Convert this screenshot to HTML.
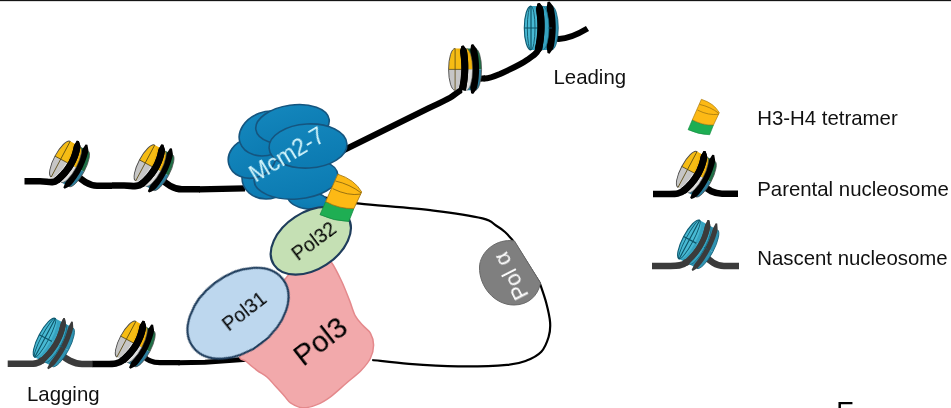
<!DOCTYPE html>
<html lang="en">
<head>
<meta charset="utf-8">
<title>Replisome histone transfer model</title>
<style>
html,body{margin:0;padding:0;background:#fff;}
body{width:951px;height:408px;overflow:hidden;position:relative;font-family:"Liberation Sans",Arial,sans-serif;}
svg{position:absolute;left:0;top:0;display:block;}
text{font-family:"Liberation Sans",Arial,sans-serif;will-change:transform;}
</style>
</head>
<body>
<svg width="951" height="408" viewBox="0 0 951 408">
<defs><linearGradient id="mg" x1="0" y1="0" x2="0.3" y2="1"><stop offset="0" stop-color="#1487bd"/><stop offset="1" stop-color="#0c7bb2"/></linearGradient></defs>
<rect x="0" y="0" width="951" height="408" fill="#ffffff"/>
<rect x="0" y="0" width="951" height="1.15" fill="#151515"/>

<path d="M322.0 197.0 C325.0 197.6 333.7 199.4 340.0 200.5 C346.3 201.6 344.4 202.0 360.0 203.7 C375.6 205.4 413.1 208.1 433.5 210.6 C453.9 213.1 472.1 215.9 482.5 218.4 C492.9 220.9 492.2 223.2 496.0 225.5 C499.8 227.8 502.2 229.6 505.0 232.0 C507.8 234.4 511.2 238.7 512.5 240.0 L539.8 283.1 C540.9 286.4 544.5 296.2 546.2 302.7 C547.9 309.2 549.7 316.6 550.1 322.3 C550.5 328.0 550.1 332.1 548.6 337.0 C547.1 341.9 545.0 347.8 541.3 351.7 C537.6 355.6 532.3 358.3 526.6 360.5 C520.9 362.7 518.4 363.9 507.0 364.9 C495.6 365.9 474.3 366.6 458.0 366.4 C441.7 366.2 423.3 365.0 409.0 363.9 C394.7 362.8 378.3 360.6 372.2 360.0" fill="none" stroke="#000" stroke-width="2.2" stroke-linejoin="round"/>
<path d="M77.5 175.5 C80.5 179.5 89 185.7 97 185.7 L112 185.7" fill="none" stroke="#000" stroke-width="6.6"/>
<path d="M162.0 179.3 C165.0 183.3 174 189.3 182 189.3 L200 189.3" fill="none" stroke="#000" stroke-width="6.6"/>
<path d="M199 189.3 L245 188.3" fill="none" stroke="#000" stroke-width="6.2"/>
<path d="M480.1 78.7 L485.1 78.3" fill="none" stroke="#000" stroke-width="6"/>
<path d="M556.8 38.8 C565 39.5 575 36 587.5 28.5" fill="none" stroke="#000" stroke-width="6"/>
<path d="M61.6 354.6 C64.6 358.6 74 364 82 364 L93 364" fill="none" stroke="#3b3b3b" stroke-width="6.6"/>
<path d="M143.2 355.5 C146.2 359.5 152 362.7 160 362.7 L180 362.7" fill="none" stroke="#000" stroke-width="5.2"/>
<path d="M178 362.7 L205 362.2 L250 359" fill="none" stroke="#000" stroke-width="5"/>
<g transform="translate(60.7 159.2) rotate(28) scale(1.0 1.0)">
<path d="M12 -20.3 L20 -20.3 A6.5 20.3 0 0 1 26.5 0 L12 0 Z" fill="#1f7046"/>
<path d="M12 20.3 L20 20.3 A6.5 20.3 0 0 0 26.5 0 L12 0 Z" fill="#2b7d9c"/>
<path d="M20 -20.3 A6.5 20.3 0 0 1 20 20.3" fill="none" stroke="#4a4a4a" stroke-width="0.7"/>
<path d="M14.99 -24.69 L14.82 -22.04 L14.52 -19.42 L14.87 -17.04 L15.38 -14.72 L15.82 -12.39 L16.19 -10.06 L16.48 -7.73 L16.69 -5.40 L16.83 -3.06 L16.90 -0.71 L16.89 1.64 L16.81 4.00 L16.65 6.36 L16.42 8.73 L16.11 11.10 L15.72 13.48 L15.27 15.87 L14.98 18.33 L15.35 21.00 L15.58 23.72 L17.42 24.28 L19.08 22.00 L20.71 19.69 L21.53 17.17 L22.03 14.60 L22.44 12.02 L22.78 9.45 L23.03 6.89 L23.20 4.32 L23.29 1.77 L23.30 -0.79 L23.23 -3.34 L23.07 -5.88 L22.84 -8.42 L22.52 -10.96 L22.13 -13.48 L21.65 -16.00 L21.09 -18.52 L20.21 -20.96 L18.52 -23.16 L16.81 -25.31 Z" fill="#000"/>
<path d="M0 -20.3 L11 -20.3 A6.5 20.3 0 0 1 17.5 0 L0 0 Z" fill="#f2b40c"/>
<path d="M0 20.3 L11 20.3 A6.5 20.3 0 0 0 17.5 0 L0 0 Z" fill="#dedede"/>
<path d="M11 -20.3 A6.5 20.3 0 0 1 11 20.3" fill="none" stroke="#4a4a4a" stroke-width="0.6"/>
<path d="M5.57 -23.78 L5.50 -21.31 L5.27 -18.89 L5.68 -16.79 L6.27 -14.77 L6.76 -12.75 L7.17 -10.72 L7.49 -8.68 L7.72 -6.64 L7.87 -4.59 L7.93 -2.53 L7.90 -0.46 L7.78 1.63 L7.57 3.72 L7.28 5.83 L6.90 7.94 L6.43 10.07 L5.87 12.22 L5.22 14.38 L4.48 16.55 L3.64 18.74 L9.96 21.26 L10.87 18.86 L11.69 16.46 L12.41 14.06 L13.04 11.67 L13.56 9.28 L13.99 6.90 L14.33 4.52 L14.56 2.15 L14.69 -0.22 L14.72 -2.57 L14.66 -4.92 L14.49 -7.26 L14.23 -9.60 L13.86 -11.92 L13.40 -14.23 L12.84 -16.53 L12.18 -18.81 L11.16 -20.99 L9.31 -22.84 L7.43 -24.62 Z" fill="#000"/>
<path d="M-6.5 0 A6.5 20.3 0 0 1 6.5 0 Z" fill="#f6bc14"/>
<path d="M-6.5 0 A6.5 20.3 0 0 0 6.5 0 Z" fill="#c6c6c6"/>
<path d="M0 -20.3 A6.5 20.3 0 0 0 0 20.3" fill="none" stroke="#4a4a4a" stroke-width="0.9"/>
<path d="M-6.5 0 H8.0 M0 -20.3 V20.3" fill="none" stroke="#5b4a10" stroke-width="0.8"/>
<path d="M5.57 -23.78 L5.50 -21.31 L5.27 -18.89 L5.68 -16.79 L6.27 -14.77 L6.76 -12.75 L7.17 -10.72 L7.49 -8.68 L7.72 -6.64 L7.87 -4.59 L7.93 -2.53 L7.90 -0.46 L7.78 1.63 L7.57 3.72 L7.28 5.83 L6.90 7.94 L6.43 10.07 L5.87 12.22 L5.22 14.38 L4.48 16.55 L3.64 18.74 L9.96 21.26 L10.87 18.86 L11.69 16.46 L12.41 14.06 L13.04 11.67 L13.56 9.28 L13.99 6.90 L14.33 4.52 L14.56 2.15 L14.69 -0.22 L14.72 -2.57 L14.66 -4.92 L14.49 -7.26 L14.23 -9.60 L13.86 -11.92 L13.40 -14.23 L12.84 -16.53 L12.18 -18.81 L11.16 -20.99 L9.31 -22.84 L7.43 -24.62 Z" fill="#000"/>
</g>
<g transform="translate(145.2 163.0) rotate(28) scale(1.0 1.0)">
<path d="M12 -20.3 L20 -20.3 A6.5 20.3 0 0 1 26.5 0 L12 0 Z" fill="#1f7046"/>
<path d="M12 20.3 L20 20.3 A6.5 20.3 0 0 0 26.5 0 L12 0 Z" fill="#2b7d9c"/>
<path d="M20 -20.3 A6.5 20.3 0 0 1 20 20.3" fill="none" stroke="#4a4a4a" stroke-width="0.7"/>
<path d="M14.99 -24.69 L14.82 -22.04 L14.52 -19.42 L14.87 -17.04 L15.38 -14.72 L15.82 -12.39 L16.19 -10.06 L16.48 -7.73 L16.69 -5.40 L16.83 -3.06 L16.90 -0.71 L16.89 1.64 L16.81 4.00 L16.65 6.36 L16.42 8.73 L16.11 11.10 L15.72 13.48 L15.27 15.87 L14.98 18.33 L15.35 21.00 L15.58 23.72 L17.42 24.28 L19.08 22.00 L20.71 19.69 L21.53 17.17 L22.03 14.60 L22.44 12.02 L22.78 9.45 L23.03 6.89 L23.20 4.32 L23.29 1.77 L23.30 -0.79 L23.23 -3.34 L23.07 -5.88 L22.84 -8.42 L22.52 -10.96 L22.13 -13.48 L21.65 -16.00 L21.09 -18.52 L20.21 -20.96 L18.52 -23.16 L16.81 -25.31 Z" fill="#000"/>
<path d="M0 -20.3 L11 -20.3 A6.5 20.3 0 0 1 17.5 0 L0 0 Z" fill="#f2b40c"/>
<path d="M0 20.3 L11 20.3 A6.5 20.3 0 0 0 17.5 0 L0 0 Z" fill="#dedede"/>
<path d="M11 -20.3 A6.5 20.3 0 0 1 11 20.3" fill="none" stroke="#4a4a4a" stroke-width="0.6"/>
<path d="M5.57 -23.78 L5.50 -21.31 L5.27 -18.89 L5.68 -16.79 L6.27 -14.77 L6.76 -12.75 L7.17 -10.72 L7.49 -8.68 L7.72 -6.64 L7.87 -4.59 L7.93 -2.53 L7.90 -0.46 L7.78 1.63 L7.57 3.72 L7.28 5.83 L6.90 7.94 L6.43 10.07 L5.87 12.22 L5.22 14.38 L4.48 16.55 L3.64 18.74 L9.96 21.26 L10.87 18.86 L11.69 16.46 L12.41 14.06 L13.04 11.67 L13.56 9.28 L13.99 6.90 L14.33 4.52 L14.56 2.15 L14.69 -0.22 L14.72 -2.57 L14.66 -4.92 L14.49 -7.26 L14.23 -9.60 L13.86 -11.92 L13.40 -14.23 L12.84 -16.53 L12.18 -18.81 L11.16 -20.99 L9.31 -22.84 L7.43 -24.62 Z" fill="#000"/>
<path d="M-6.5 0 A6.5 20.3 0 0 1 6.5 0 Z" fill="#f6bc14"/>
<path d="M-6.5 0 A6.5 20.3 0 0 0 6.5 0 Z" fill="#c6c6c6"/>
<path d="M0 -20.3 A6.5 20.3 0 0 0 0 20.3" fill="none" stroke="#4a4a4a" stroke-width="0.9"/>
<path d="M-6.5 0 H8.0 M0 -20.3 V20.3" fill="none" stroke="#5b4a10" stroke-width="0.8"/>
<path d="M5.57 -23.78 L5.50 -21.31 L5.27 -18.89 L5.68 -16.79 L6.27 -14.77 L6.76 -12.75 L7.17 -10.72 L7.49 -8.68 L7.72 -6.64 L7.87 -4.59 L7.93 -2.53 L7.90 -0.46 L7.78 1.63 L7.57 3.72 L7.28 5.83 L6.90 7.94 L6.43 10.07 L5.87 12.22 L5.22 14.38 L4.48 16.55 L3.64 18.74 L9.96 21.26 L10.87 18.86 L11.69 16.46 L12.41 14.06 L13.04 11.67 L13.56 9.28 L13.99 6.90 L14.33 4.52 L14.56 2.15 L14.69 -0.22 L14.72 -2.57 L14.66 -4.92 L14.49 -7.26 L14.23 -9.60 L13.86 -11.92 L13.40 -14.23 L12.84 -16.53 L12.18 -18.81 L11.16 -20.99 L9.31 -22.84 L7.43 -24.62 Z" fill="#000"/>
</g>
<g transform="translate(455.1 69.4) rotate(0) scale(1.0 1.03)">
<path d="M12 -20.3 L20 -20.3 A6.5 20.3 0 0 1 26.5 0 L12 0 Z" fill="#1f7046"/>
<path d="M12 20.3 L20 20.3 A6.5 20.3 0 0 0 26.5 0 L12 0 Z" fill="#2b7d9c"/>
<path d="M20 -20.3 A6.5 20.3 0 0 1 20 20.3" fill="none" stroke="#4a4a4a" stroke-width="0.7"/>
<path d="M15.99 -24.00 L15.63 -21.42 L15.13 -18.88 L15.36 -16.57 L15.79 -14.32 L16.16 -12.06 L16.46 -9.80 L16.70 -7.53 L16.87 -5.26 L16.97 -2.98 L17.00 -0.70 L16.97 1.59 L16.87 3.89 L16.70 6.19 L16.46 8.50 L16.16 10.82 L15.79 13.15 L15.35 15.49 L15.12 17.89 L15.62 20.53 L15.99 23.21 L18.01 23.79 L19.71 21.58 L21.40 19.33 L22.22 16.87 L22.69 14.35 L23.09 11.83 L23.42 9.31 L23.67 6.80 L23.85 4.30 L23.96 1.80 L24.00 -0.70 L23.96 -3.19 L23.85 -5.67 L23.67 -8.15 L23.42 -10.62 L23.09 -13.09 L22.69 -15.55 L22.21 -18.00 L21.39 -20.38 L19.70 -22.52 L18.01 -24.60 Z" fill="#000"/>
<path d="M0 -20.3 L11 -20.3 A6.5 20.3 0 0 1 17.5 0 L0 0 Z" fill="#f2b40c"/>
<path d="M0 20.3 L11 20.3 A6.5 20.3 0 0 0 17.5 0 L0 0 Z" fill="#dedede"/>
<path d="M11 -20.3 A6.5 20.3 0 0 1 11 20.3" fill="none" stroke="#4a4a4a" stroke-width="0.6"/>
<path d="M6.37 -22.78 L5.76 -20.49 L5.05 -18.24 L5.11 -16.16 L5.39 -14.11 L5.63 -12.07 L5.83 -10.02 L5.98 -7.96 L6.08 -5.90 L6.14 -3.84 L6.15 -1.77 L6.12 0.31 L6.04 2.39 L5.92 4.48 L5.75 6.57 L5.53 8.67 L5.27 10.78 L4.97 12.89 L4.62 15.00 L4.22 17.13 L3.78 19.25 L10.62 20.75 L11.09 18.48 L11.51 16.22 L11.89 13.96 L12.21 11.70 L12.49 9.45 L12.72 7.21 L12.90 4.97 L13.03 2.73 L13.12 0.50 L13.15 -1.73 L13.14 -3.96 L13.07 -6.18 L12.96 -8.39 L12.80 -10.60 L12.59 -12.81 L12.34 -15.01 L12.03 -17.20 L11.40 -19.34 L9.91 -21.30 L8.43 -23.22 Z" fill="#000"/>
<path d="M-6.5 0 A6.5 20.3 0 0 1 6.5 0 Z" fill="#f6bc14"/>
<path d="M-6.5 0 A6.5 20.3 0 0 0 6.5 0 Z" fill="#c6c6c6"/>
<path d="M0 -20.3 A6.5 20.3 0 0 0 0 20.3" fill="none" stroke="#4a4a4a" stroke-width="0.9"/>
<path d="M-6.5 0 H8.0 M0 -20.3 V20.3" fill="none" stroke="#5b4a10" stroke-width="0.8"/>
<path d="M6.37 -22.78 L5.76 -20.49 L5.05 -18.24 L5.11 -16.16 L5.39 -14.11 L5.63 -12.07 L5.83 -10.02 L5.98 -7.96 L6.08 -5.90 L6.14 -3.84 L6.15 -1.77 L6.12 0.31 L6.04 2.39 L5.92 4.48 L5.75 6.57 L5.53 8.67 L5.27 10.78 L4.97 12.89 L4.62 15.00 L4.22 17.13 L3.78 19.25 L10.62 20.75 L11.09 18.48 L11.51 16.22 L11.89 13.96 L12.21 11.70 L12.49 9.45 L12.72 7.21 L12.90 4.97 L13.03 2.73 L13.12 0.50 L13.15 -1.73 L13.14 -3.96 L13.07 -6.18 L12.96 -8.39 L12.80 -10.60 L12.59 -12.81 L12.34 -15.01 L12.03 -17.20 L11.40 -19.34 L9.91 -21.30 L8.43 -23.22 Z" fill="#000"/>
</g>
<g transform="translate(531.0 28.0) rotate(0) scale(1.03 1.08)">
<path d="M12 -20.3 L20 -20.3 A6.5 20.3 0 0 1 26.5 0 L12 0 Z" fill="#2f93b2"/>
<path d="M12 20.3 L20 20.3 A6.5 20.3 0 0 0 26.5 0 L12 0 Z" fill="#2f93b2"/>
<path d="M20 -20.3 A6.5 20.3 0 0 1 20 20.3" fill="none" stroke="#0f5b72" stroke-width="0.7"/>
<path d="M15.99 -24.00 L15.63 -21.42 L15.13 -18.88 L15.36 -16.57 L15.79 -14.32 L16.16 -12.06 L16.46 -9.80 L16.70 -7.53 L16.87 -5.26 L16.97 -2.98 L17.00 -0.70 L16.97 1.59 L16.87 3.89 L16.70 6.19 L16.46 8.50 L16.16 10.82 L15.79 13.15 L15.35 15.49 L15.12 17.89 L15.62 20.53 L15.99 23.21 L18.01 23.79 L19.71 21.58 L21.40 19.33 L22.22 16.87 L22.69 14.35 L23.09 11.83 L23.42 9.31 L23.67 6.80 L23.85 4.30 L23.96 1.80 L24.00 -0.70 L23.96 -3.19 L23.85 -5.67 L23.67 -8.15 L23.42 -10.62 L23.09 -13.09 L22.69 -15.55 L22.21 -18.00 L21.39 -20.38 L19.70 -22.52 L18.01 -24.60 Z" fill="#000"/>
<path d="M0 -20.3 L11 -20.3 A6.5 20.3 0 0 1 17.5 0 L0 0 Z" fill="#36a3c0"/>
<path d="M0 20.3 L11 20.3 A6.5 20.3 0 0 0 17.5 0 L0 0 Z" fill="#36a3c0"/>
<path d="M16.5 0 H20.5" fill="none" stroke="#0f5b72" stroke-width="0.7"/>
<path d="M11 -20.3 A6.5 20.3 0 0 1 11 20.3" fill="none" stroke="#0f5b72" stroke-width="0.6"/>
<path d="M6.37 -22.78 L5.76 -20.49 L5.05 -18.24 L5.11 -16.16 L5.39 -14.11 L5.63 -12.07 L5.83 -10.02 L5.98 -7.96 L6.08 -5.90 L6.14 -3.84 L6.15 -1.77 L6.12 0.31 L6.04 2.39 L5.92 4.48 L5.75 6.57 L5.53 8.67 L5.27 10.78 L4.97 12.89 L4.62 15.00 L4.22 17.13 L3.78 19.25 L10.62 20.75 L11.09 18.48 L11.51 16.22 L11.89 13.96 L12.21 11.70 L12.49 9.45 L12.72 7.21 L12.90 4.97 L13.03 2.73 L13.12 0.50 L13.15 -1.73 L13.14 -3.96 L13.07 -6.18 L12.96 -8.39 L12.80 -10.60 L12.59 -12.81 L12.34 -15.01 L12.03 -17.20 L11.40 -19.34 L9.91 -21.30 L8.43 -23.22 Z" fill="#000"/>
<path d="M-6.5 0 A6.5 20.3 0 0 1 6.5 0 Z" fill="#48b9d3"/>
<path d="M-6.5 0 A6.5 20.3 0 0 0 6.5 0 Z" fill="#48b9d3"/>
<path d="M0 -20.3 A6.5 20.3 0 0 0 0 20.3" fill="none" stroke="#0f5b72" stroke-width="1.1"/>
<path d="M-6.5 0 H8.0 M0 -20.3 V20.3" fill="none" stroke="#0d5468" stroke-width="1.15"/>
<path d="M0 -20.3 A3.575 20.3 0 0 0 0 20.3 M0 -20.3 A3.9 20.3 0 0 1 0 20.3" fill="none" stroke="#0d5468" stroke-width="0.85"/>
<path d="M6.37 -22.78 L5.76 -20.49 L5.05 -18.24 L5.11 -16.16 L5.39 -14.11 L5.63 -12.07 L5.83 -10.02 L5.98 -7.96 L6.08 -5.90 L6.14 -3.84 L6.15 -1.77 L6.12 0.31 L6.04 2.39 L5.92 4.48 L5.75 6.57 L5.53 8.67 L5.27 10.78 L4.97 12.89 L4.62 15.00 L4.22 17.13 L3.78 19.25 L10.62 20.75 L11.09 18.48 L11.51 16.22 L11.89 13.96 L12.21 11.70 L12.49 9.45 L12.72 7.21 L12.90 4.97 L13.03 2.73 L13.12 0.50 L13.15 -1.73 L13.14 -3.96 L13.07 -6.18 L12.96 -8.39 L12.80 -10.60 L12.59 -12.81 L12.34 -15.01 L12.03 -17.20 L11.40 -19.34 L9.91 -21.30 L8.43 -23.22 Z" fill="#000"/>
</g>
<g transform="translate(45.0 337.8) rotate(28) scale(1.0 1.08)">
<path d="M12 -20.3 L20 -20.3 A6.5 20.3 0 0 1 26.5 0 L12 0 Z" fill="#2f93b2"/>
<path d="M12 20.3 L20 20.3 A6.5 20.3 0 0 0 26.5 0 L12 0 Z" fill="#2f93b2"/>
<path d="M20 -20.3 A6.5 20.3 0 0 1 20 20.3" fill="none" stroke="#0f5b72" stroke-width="0.7"/>
<path d="M15.57 -24.75 L15.59 -22.15 L15.49 -19.57 L15.89 -17.18 L16.41 -14.84 L16.85 -12.50 L17.22 -10.15 L17.51 -7.80 L17.73 -5.45 L17.87 -3.08 L17.94 -0.72 L17.93 1.65 L17.85 4.03 L17.69 6.41 L17.45 8.80 L17.14 11.19 L16.76 13.59 L16.29 16.00 L15.95 18.46 L16.12 21.10 L16.16 23.78 L17.64 24.22 L19.10 21.90 L20.53 19.56 L21.31 17.04 L21.80 14.49 L22.21 11.93 L22.54 9.38 L22.79 6.83 L22.96 4.29 L23.05 1.75 L23.06 -0.78 L22.99 -3.31 L22.84 -5.83 L22.60 -8.35 L22.29 -10.87 L21.90 -13.37 L21.42 -15.88 L20.87 -18.37 L20.04 -20.81 L18.55 -23.05 L17.03 -25.25 Z" fill="#3b3b3b"/>
<path d="M0 -20.3 L11 -20.3 A6.5 20.3 0 0 1 17.5 0 L0 0 Z" fill="#36a3c0"/>
<path d="M0 20.3 L11 20.3 A6.5 20.3 0 0 0 17.5 0 L0 0 Z" fill="#36a3c0"/>
<path d="M16.5 0 H20.5" fill="none" stroke="#0f5b72" stroke-width="0.7"/>
<path d="M11 -20.3 A6.5 20.3 0 0 1 11 20.3" fill="none" stroke="#0f5b72" stroke-width="0.6"/>
<path d="M6.96 -23.87 L7.08 -21.46 L7.06 -19.10 L7.53 -16.99 L8.12 -14.95 L8.63 -12.90 L9.04 -10.84 L9.36 -8.77 L9.60 -6.70 L9.75 -4.62 L9.81 -2.53 L9.77 -0.43 L9.66 1.68 L9.45 3.80 L9.15 5.93 L8.76 8.08 L8.29 10.23 L7.72 12.40 L7.06 14.59 L6.31 16.78 L5.47 18.99 L10.53 21.01 L11.43 18.63 L12.24 16.25 L12.96 13.88 L13.58 11.51 L14.10 9.15 L14.52 6.79 L14.85 4.44 L15.08 2.10 L15.21 -0.24 L15.24 -2.57 L15.18 -4.89 L15.02 -7.20 L14.75 -9.50 L14.39 -11.80 L13.94 -14.08 L13.38 -16.35 L12.73 -18.61 L11.77 -20.78 L10.13 -22.69 L8.44 -24.53 Z" fill="#3b3b3b"/>
<path d="M-6.5 0 A6.5 20.3 0 0 1 6.5 0 Z" fill="#48b9d3"/>
<path d="M-6.5 0 A6.5 20.3 0 0 0 6.5 0 Z" fill="#48b9d3"/>
<path d="M0 -20.3 A6.5 20.3 0 0 0 0 20.3" fill="none" stroke="#0f5b72" stroke-width="1.1"/>
<path d="M-6.5 0 H8.0 M0 -20.3 V20.3" fill="none" stroke="#0d5468" stroke-width="1.15"/>
<path d="M0 -20.3 A3.575 20.3 0 0 0 0 20.3 M0 -20.3 A3.9 20.3 0 0 1 0 20.3" fill="none" stroke="#0d5468" stroke-width="0.85"/>
<path d="M6.96 -23.87 L7.08 -21.46 L7.06 -19.10 L7.53 -16.99 L8.12 -14.95 L8.63 -12.90 L9.04 -10.84 L9.36 -8.77 L9.60 -6.70 L9.75 -4.62 L9.81 -2.53 L9.77 -0.43 L9.66 1.68 L9.45 3.80 L9.15 5.93 L8.76 8.08 L8.29 10.23 L7.72 12.40 L7.06 14.59 L6.31 16.78 L5.47 18.99 L10.53 21.01 L11.43 18.63 L12.24 16.25 L12.96 13.88 L13.58 11.51 L14.10 9.15 L14.52 6.79 L14.85 4.44 L15.08 2.10 L15.21 -0.24 L15.24 -2.57 L15.18 -4.89 L15.02 -7.20 L14.75 -9.50 L14.39 -11.80 L13.94 -14.08 L13.38 -16.35 L12.73 -18.61 L11.77 -20.78 L10.13 -22.69 L8.44 -24.53 Z" fill="#3b3b3b"/>
</g>
<g transform="translate(126.4 339.2) rotate(28) scale(1.0 1.0)">
<path d="M12 -20.3 L20 -20.3 A6.5 20.3 0 0 1 26.5 0 L12 0 Z" fill="#1f7046"/>
<path d="M12 20.3 L20 20.3 A6.5 20.3 0 0 0 26.5 0 L12 0 Z" fill="#2b7d9c"/>
<path d="M20 -20.3 A6.5 20.3 0 0 1 20 20.3" fill="none" stroke="#4a4a4a" stroke-width="0.7"/>
<path d="M14.99 -24.69 L14.82 -22.04 L14.52 -19.42 L14.87 -17.04 L15.38 -14.72 L15.82 -12.39 L16.19 -10.06 L16.48 -7.73 L16.69 -5.40 L16.83 -3.06 L16.90 -0.71 L16.89 1.64 L16.81 4.00 L16.65 6.36 L16.42 8.73 L16.11 11.10 L15.72 13.48 L15.27 15.87 L14.98 18.33 L15.35 21.00 L15.58 23.72 L17.42 24.28 L19.08 22.00 L20.71 19.69 L21.53 17.17 L22.03 14.60 L22.44 12.02 L22.78 9.45 L23.03 6.89 L23.20 4.32 L23.29 1.77 L23.30 -0.79 L23.23 -3.34 L23.07 -5.88 L22.84 -8.42 L22.52 -10.96 L22.13 -13.48 L21.65 -16.00 L21.09 -18.52 L20.21 -20.96 L18.52 -23.16 L16.81 -25.31 Z" fill="#000"/>
<path d="M0 -20.3 L11 -20.3 A6.5 20.3 0 0 1 17.5 0 L0 0 Z" fill="#f2b40c"/>
<path d="M0 20.3 L11 20.3 A6.5 20.3 0 0 0 17.5 0 L0 0 Z" fill="#dedede"/>
<path d="M11 -20.3 A6.5 20.3 0 0 1 11 20.3" fill="none" stroke="#4a4a4a" stroke-width="0.6"/>
<path d="M5.57 -23.78 L5.50 -21.31 L5.27 -18.89 L5.68 -16.79 L6.27 -14.77 L6.76 -12.75 L7.17 -10.72 L7.49 -8.68 L7.72 -6.64 L7.87 -4.59 L7.93 -2.53 L7.90 -0.46 L7.78 1.63 L7.57 3.72 L7.28 5.83 L6.90 7.94 L6.43 10.07 L5.87 12.22 L5.22 14.38 L4.48 16.55 L3.64 18.74 L9.96 21.26 L10.87 18.86 L11.69 16.46 L12.41 14.06 L13.04 11.67 L13.56 9.28 L13.99 6.90 L14.33 4.52 L14.56 2.15 L14.69 -0.22 L14.72 -2.57 L14.66 -4.92 L14.49 -7.26 L14.23 -9.60 L13.86 -11.92 L13.40 -14.23 L12.84 -16.53 L12.18 -18.81 L11.16 -20.99 L9.31 -22.84 L7.43 -24.62 Z" fill="#000"/>
<path d="M-6.5 0 A6.5 20.3 0 0 1 6.5 0 Z" fill="#f6bc14"/>
<path d="M-6.5 0 A6.5 20.3 0 0 0 6.5 0 Z" fill="#c6c6c6"/>
<path d="M0 -20.3 A6.5 20.3 0 0 0 0 20.3" fill="none" stroke="#4a4a4a" stroke-width="0.9"/>
<path d="M-6.5 0 H8.0 M0 -20.3 V20.3" fill="none" stroke="#5b4a10" stroke-width="0.8"/>
<path d="M5.57 -23.78 L5.50 -21.31 L5.27 -18.89 L5.68 -16.79 L6.27 -14.77 L6.76 -12.75 L7.17 -10.72 L7.49 -8.68 L7.72 -6.64 L7.87 -4.59 L7.93 -2.53 L7.90 -0.46 L7.78 1.63 L7.57 3.72 L7.28 5.83 L6.90 7.94 L6.43 10.07 L5.87 12.22 L5.22 14.38 L4.48 16.55 L3.64 18.74 L9.96 21.26 L10.87 18.86 L11.69 16.46 L12.41 14.06 L13.04 11.67 L13.56 9.28 L13.99 6.90 L14.33 4.52 L14.56 2.15 L14.69 -0.22 L14.72 -2.57 L14.66 -4.92 L14.49 -7.26 L14.23 -9.60 L13.86 -11.92 L13.40 -14.23 L12.84 -16.53 L12.18 -18.81 L11.16 -20.99 L9.31 -22.84 L7.43 -24.62 Z" fill="#000"/>
</g>
<path d="M24.5 181.3 L40 181.3 C48 181.3 52.7 183.9 57.3 180.1" fill="none" stroke="#000" stroke-width="6.6" stroke-linecap="butt"/><circle cx="57.3" cy="180.1" r="3.3" fill="#000"/>
<path d="M112 185.5 L124 185.5 C132 185.5 137.2 187.7 141.8 183.9" fill="none" stroke="#000" stroke-width="6.6" stroke-linecap="butt"/><circle cx="141.8" cy="183.9" r="3.3" fill="#000"/>
<path d="M340 152 L428 108.5 C440 102.5 447 100 452 96.5 C457 93 460 90 462.3 90.0" fill="none" stroke="#000" stroke-width="6"/>
<path d="M483.6 78.4 C488 78.8 493 77 500 74 C512 68.5 520 65 527 60 C533 56 537 53.5 538.4 49.6" fill="none" stroke="#000" stroke-width="6"/><circle cx="538.4" cy="49.6" r="3.1" fill="#000"/>
<path d="M7.7 363.7 L24 363.7 C32 363.7 37.4 364.6 41.9 360.6" fill="none" stroke="#3b3b3b" stroke-width="6.6" stroke-linecap="butt"/><circle cx="41.9" cy="360.6" r="3.3" fill="#3b3b3b"/>
<path d="M92.6 364 L106 364 C114 364 118.4 363.9 123.0 360.1" fill="none" stroke="#000" stroke-width="6.6" stroke-linecap="butt"/><circle cx="123.0" cy="360.1" r="3.3" fill="#000"/>
<path d="M300.0 262.0 C311.2 251.0 316.8 253.9 322.0 254.0 C327.2 254.1 328.2 258.0 331.5 262.5 C334.8 267.0 338.5 274.7 341.5 281.0 C344.5 287.3 347.2 294.6 349.5 300.4 C351.8 306.2 353.1 311.7 355.3 315.9 C357.6 320.1 360.5 322.7 363.0 325.6 C365.5 328.5 368.7 330.1 370.5 333.3 C372.3 336.5 373.6 340.8 373.6 345.0 C373.6 349.2 372.4 354.3 370.3 358.5 C368.2 362.7 365.4 366.0 361.3 370.2 C357.2 374.4 351.1 379.1 346.0 383.5 C340.9 387.9 335.3 393.3 330.5 396.8 C325.7 400.3 321.7 402.8 317.0 404.6 C312.3 406.4 306.9 408.1 302.5 407.8 C298.1 407.5 293.5 404.8 290.5 402.8 C287.5 400.8 286.8 398.7 284.4 396.0 C281.9 393.3 278.7 389.7 275.8 386.6 C272.9 383.5 270.4 379.9 267.2 377.2 C264.0 374.5 260.3 372.9 256.9 370.3 C253.5 367.7 249.4 364.4 246.6 361.7 C243.8 359.0 238.4 360.9 239.8 354.0 C241.2 347.1 245.0 335.3 255.0 320.0 C265.0 304.7 288.8 273.0 300.0 262.0 Z" fill="#f2a9ab" stroke="#e4898c" stroke-width="1.5"/>
<text transform="translate(326.5 349) rotate(-38)" font-size="29.5" text-anchor="middle" fill="#000">Pol3</text>
<g fill="url(#mg)" stroke="#15557f" stroke-width="1.6">
<ellipse cx="308" cy="200" rx="20" ry="9" transform="rotate(8 308 200)"/>
<ellipse cx="266" cy="178" rx="24" ry="21"/>
<ellipse cx="296" cy="178" rx="42" ry="21" transform="rotate(-4 296 178)"/>
<ellipse cx="252" cy="158" rx="24" ry="20" transform="rotate(-15 252 158)"/>
<ellipse cx="266.5" cy="133.5" rx="28" ry="21.5" transform="rotate(-20 266.5 133.5)"/>
<ellipse cx="292.5" cy="124.5" rx="37" ry="19.5" transform="rotate(-8 292.5 124.5)"/>
<ellipse cx="308" cy="146" rx="39" ry="22" transform="rotate(-3 308 146)"/>
</g>
<text transform="translate(291 161.5) rotate(-31)" font-size="23" text-anchor="middle" fill="#d4f6fc">Mcm2-7</text>
<ellipse cx="310.8" cy="240.8" rx="44" ry="28.5" transform="rotate(-33 310.8 240.8)" fill="#c5e0b4" stroke="#1f3d5c" stroke-width="2.2"/>
<text transform="translate(318 246.3) rotate(-37)" font-size="19.5" text-anchor="middle" fill="#000">Pol32</text>
<ellipse cx="238" cy="313.2" rx="56.3" ry="38" transform="rotate(-37 238 313.2)" fill="#bdd7ee" stroke="#1f3d5c" stroke-width="2.2"/>
<text transform="translate(248.5 316.5) rotate(-38)" font-size="19.5" text-anchor="middle" fill="#000">Pol31</text>
<g transform="translate(337.8 174.2) scale(1.0)">
<path d="M-12.1 27.4 Q2 35 16.1 34.3 L11 47.3 Q-4 46.8 -17.8 40.5 Z" fill="#1eae53" stroke="#168a42" stroke-width="0.8" stroke-linejoin="round"/>
<path d="M0 0 Q17 5.5 23.9 17.8 L16.1 34.3 Q2 35 -12.1 27.4 Z" fill="#fdb915" stroke="#a87b12" stroke-width="0.9" stroke-linejoin="round"/>
<path d="M-2.5 6.8 Q12 10 23.2 18.6 M-5.2 14.4 Q10 22 23 19.9" fill="none" stroke="#8f6a10" stroke-width="0.9"/>
</g>
<path d="M514.5 241 L540.5 283 C538 296 528 305 514 305 C494 305 479 286 479.5 267 C480 252 496 238 514.5 241 Z" fill="#7f7f7f" stroke="#6a6a6a" stroke-width="1"/>
<text transform="translate(517.7 272.7) rotate(-117)" font-size="22" text-anchor="middle" fill="#fff">Pol α</text>
<g transform="translate(701.4 99.3) scale(0.75)">
<path d="M-12.1 27.4 Q2 35 16.1 34.3 L11 47.3 Q-4 46.8 -17.8 40.5 Z" fill="#1eae53" stroke="#168a42" stroke-width="0.8" stroke-linejoin="round"/>
<path d="M0 0 Q17 5.5 23.9 17.8 L16.1 34.3 Q2 35 -12.1 27.4 Z" fill="#fdb915" stroke="#a87b12" stroke-width="0.9" stroke-linejoin="round"/>
<path d="M-2.5 6.8 Q12 10 23.2 18.6 M-5.2 14.4 Q10 22 23 19.9" fill="none" stroke="#8f6a10" stroke-width="0.9"/>
</g>
<path d="M704.3 185.8 C707.3 189.8 714 193.7 722 193.7 L738 193.7" fill="none" stroke="#000" stroke-width="6.6"/>
<g transform="translate(687.5 169.5) rotate(28) scale(1.0 1.0)">
<path d="M12 -20.3 L20 -20.3 A6.5 20.3 0 0 1 26.5 0 L12 0 Z" fill="#1f7046"/>
<path d="M12 20.3 L20 20.3 A6.5 20.3 0 0 0 26.5 0 L12 0 Z" fill="#2b7d9c"/>
<path d="M20 -20.3 A6.5 20.3 0 0 1 20 20.3" fill="none" stroke="#4a4a4a" stroke-width="0.7"/>
<path d="M14.99 -24.69 L14.82 -22.04 L14.52 -19.42 L14.87 -17.04 L15.38 -14.72 L15.82 -12.39 L16.19 -10.06 L16.48 -7.73 L16.69 -5.40 L16.83 -3.06 L16.90 -0.71 L16.89 1.64 L16.81 4.00 L16.65 6.36 L16.42 8.73 L16.11 11.10 L15.72 13.48 L15.27 15.87 L14.98 18.33 L15.35 21.00 L15.58 23.72 L17.42 24.28 L19.08 22.00 L20.71 19.69 L21.53 17.17 L22.03 14.60 L22.44 12.02 L22.78 9.45 L23.03 6.89 L23.20 4.32 L23.29 1.77 L23.30 -0.79 L23.23 -3.34 L23.07 -5.88 L22.84 -8.42 L22.52 -10.96 L22.13 -13.48 L21.65 -16.00 L21.09 -18.52 L20.21 -20.96 L18.52 -23.16 L16.81 -25.31 Z" fill="#000"/>
<path d="M0 -20.3 L11 -20.3 A6.5 20.3 0 0 1 17.5 0 L0 0 Z" fill="#f2b40c"/>
<path d="M0 20.3 L11 20.3 A6.5 20.3 0 0 0 17.5 0 L0 0 Z" fill="#dedede"/>
<path d="M11 -20.3 A6.5 20.3 0 0 1 11 20.3" fill="none" stroke="#4a4a4a" stroke-width="0.6"/>
<path d="M5.57 -23.78 L5.50 -21.31 L5.27 -18.89 L5.68 -16.79 L6.27 -14.77 L6.76 -12.75 L7.17 -10.72 L7.49 -8.68 L7.72 -6.64 L7.87 -4.59 L7.93 -2.53 L7.90 -0.46 L7.78 1.63 L7.57 3.72 L7.28 5.83 L6.90 7.94 L6.43 10.07 L5.87 12.22 L5.22 14.38 L4.48 16.55 L3.64 18.74 L9.96 21.26 L10.87 18.86 L11.69 16.46 L12.41 14.06 L13.04 11.67 L13.56 9.28 L13.99 6.90 L14.33 4.52 L14.56 2.15 L14.69 -0.22 L14.72 -2.57 L14.66 -4.92 L14.49 -7.26 L14.23 -9.60 L13.86 -11.92 L13.40 -14.23 L12.84 -16.53 L12.18 -18.81 L11.16 -20.99 L9.31 -22.84 L7.43 -24.62 Z" fill="#000"/>
<path d="M-6.5 0 A6.5 20.3 0 0 1 6.5 0 Z" fill="#f6bc14"/>
<path d="M-6.5 0 A6.5 20.3 0 0 0 6.5 0 Z" fill="#c6c6c6"/>
<path d="M0 -20.3 A6.5 20.3 0 0 0 0 20.3" fill="none" stroke="#4a4a4a" stroke-width="0.9"/>
<path d="M-6.5 0 H8.0 M0 -20.3 V20.3" fill="none" stroke="#5b4a10" stroke-width="0.8"/>
<path d="M5.57 -23.78 L5.50 -21.31 L5.27 -18.89 L5.68 -16.79 L6.27 -14.77 L6.76 -12.75 L7.17 -10.72 L7.49 -8.68 L7.72 -6.64 L7.87 -4.59 L7.93 -2.53 L7.90 -0.46 L7.78 1.63 L7.57 3.72 L7.28 5.83 L6.90 7.94 L6.43 10.07 L5.87 12.22 L5.22 14.38 L4.48 16.55 L3.64 18.74 L9.96 21.26 L10.87 18.86 L11.69 16.46 L12.41 14.06 L13.04 11.67 L13.56 9.28 L13.99 6.90 L14.33 4.52 L14.56 2.15 L14.69 -0.22 L14.72 -2.57 L14.66 -4.92 L14.49 -7.26 L14.23 -9.60 L13.86 -11.92 L13.40 -14.23 L12.84 -16.53 L12.18 -18.81 L11.16 -20.99 L9.31 -22.84 L7.43 -24.62 Z" fill="#000"/>
</g>
<path d="M706.0 256.4 C709.0 260.4 716 266 724 266 L739 266" fill="none" stroke="#3b3b3b" stroke-width="6.6"/>
<g transform="translate(689.4 239.6) rotate(28) scale(1.0 1.08)">
<path d="M12 -20.3 L20 -20.3 A6.5 20.3 0 0 1 26.5 0 L12 0 Z" fill="#2f93b2"/>
<path d="M12 20.3 L20 20.3 A6.5 20.3 0 0 0 26.5 0 L12 0 Z" fill="#2f93b2"/>
<path d="M20 -20.3 A6.5 20.3 0 0 1 20 20.3" fill="none" stroke="#0f5b72" stroke-width="0.7"/>
<path d="M15.57 -24.75 L15.59 -22.15 L15.49 -19.57 L15.89 -17.18 L16.41 -14.84 L16.85 -12.50 L17.22 -10.15 L17.51 -7.80 L17.73 -5.45 L17.87 -3.08 L17.94 -0.72 L17.93 1.65 L17.85 4.03 L17.69 6.41 L17.45 8.80 L17.14 11.19 L16.76 13.59 L16.29 16.00 L15.95 18.46 L16.12 21.10 L16.16 23.78 L17.64 24.22 L19.10 21.90 L20.53 19.56 L21.31 17.04 L21.80 14.49 L22.21 11.93 L22.54 9.38 L22.79 6.83 L22.96 4.29 L23.05 1.75 L23.06 -0.78 L22.99 -3.31 L22.84 -5.83 L22.60 -8.35 L22.29 -10.87 L21.90 -13.37 L21.42 -15.88 L20.87 -18.37 L20.04 -20.81 L18.55 -23.05 L17.03 -25.25 Z" fill="#3b3b3b"/>
<path d="M0 -20.3 L11 -20.3 A6.5 20.3 0 0 1 17.5 0 L0 0 Z" fill="#36a3c0"/>
<path d="M0 20.3 L11 20.3 A6.5 20.3 0 0 0 17.5 0 L0 0 Z" fill="#36a3c0"/>
<path d="M16.5 0 H20.5" fill="none" stroke="#0f5b72" stroke-width="0.7"/>
<path d="M11 -20.3 A6.5 20.3 0 0 1 11 20.3" fill="none" stroke="#0f5b72" stroke-width="0.6"/>
<path d="M6.96 -23.87 L7.08 -21.46 L7.06 -19.10 L7.53 -16.99 L8.12 -14.95 L8.63 -12.90 L9.04 -10.84 L9.36 -8.77 L9.60 -6.70 L9.75 -4.62 L9.81 -2.53 L9.77 -0.43 L9.66 1.68 L9.45 3.80 L9.15 5.93 L8.76 8.08 L8.29 10.23 L7.72 12.40 L7.06 14.59 L6.31 16.78 L5.47 18.99 L10.53 21.01 L11.43 18.63 L12.24 16.25 L12.96 13.88 L13.58 11.51 L14.10 9.15 L14.52 6.79 L14.85 4.44 L15.08 2.10 L15.21 -0.24 L15.24 -2.57 L15.18 -4.89 L15.02 -7.20 L14.75 -9.50 L14.39 -11.80 L13.94 -14.08 L13.38 -16.35 L12.73 -18.61 L11.77 -20.78 L10.13 -22.69 L8.44 -24.53 Z" fill="#3b3b3b"/>
<path d="M-6.5 0 A6.5 20.3 0 0 1 6.5 0 Z" fill="#48b9d3"/>
<path d="M-6.5 0 A6.5 20.3 0 0 0 6.5 0 Z" fill="#48b9d3"/>
<path d="M0 -20.3 A6.5 20.3 0 0 0 0 20.3" fill="none" stroke="#0f5b72" stroke-width="1.1"/>
<path d="M-6.5 0 H8.0 M0 -20.3 V20.3" fill="none" stroke="#0d5468" stroke-width="1.15"/>
<path d="M0 -20.3 A3.575 20.3 0 0 0 0 20.3 M0 -20.3 A3.9 20.3 0 0 1 0 20.3" fill="none" stroke="#0d5468" stroke-width="0.85"/>
<path d="M6.96 -23.87 L7.08 -21.46 L7.06 -19.10 L7.53 -16.99 L8.12 -14.95 L8.63 -12.90 L9.04 -10.84 L9.36 -8.77 L9.60 -6.70 L9.75 -4.62 L9.81 -2.53 L9.77 -0.43 L9.66 1.68 L9.45 3.80 L9.15 5.93 L8.76 8.08 L8.29 10.23 L7.72 12.40 L7.06 14.59 L6.31 16.78 L5.47 18.99 L10.53 21.01 L11.43 18.63 L12.24 16.25 L12.96 13.88 L13.58 11.51 L14.10 9.15 L14.52 6.79 L14.85 4.44 L15.08 2.10 L15.21 -0.24 L15.24 -2.57 L15.18 -4.89 L15.02 -7.20 L14.75 -9.50 L14.39 -11.80 L13.94 -14.08 L13.38 -16.35 L12.73 -18.61 L11.77 -20.78 L10.13 -22.69 L8.44 -24.53 Z" fill="#3b3b3b"/>
</g>
<path d="M653 194 L668 194 C676 194 679.5 194.2 684.1 190.4" fill="none" stroke="#000" stroke-width="6.6" stroke-linecap="butt"/><circle cx="684.1" cy="190.4" r="3.3" fill="#000"/>
<path d="M652 266 L668 266 C676 266 681.8 266.4 686.3 262.4" fill="none" stroke="#3b3b3b" stroke-width="6.6" stroke-linecap="butt"/><circle cx="686.3" cy="262.4" r="3.3" fill="#3b3b3b"/>
<text x="553.5" y="84" font-size="20.4" fill="#111">Leading</text>
<text x="27" y="401.4" font-size="20.4" fill="#111">Lagging</text>
<text x="757.2" y="124.6" font-size="20.4" fill="#111">H3-H4 tetramer</text>
<text x="757.2" y="196.0" font-size="20.4" fill="#111">Parental nucleosome</text>
<text x="757.2" y="264.9" font-size="20.4" fill="#111">Nascent nucleosome</text>
<text x="836.2" y="420.5" font-size="26.8" fill="#000">E</text>
</svg>
</body>
</html>
